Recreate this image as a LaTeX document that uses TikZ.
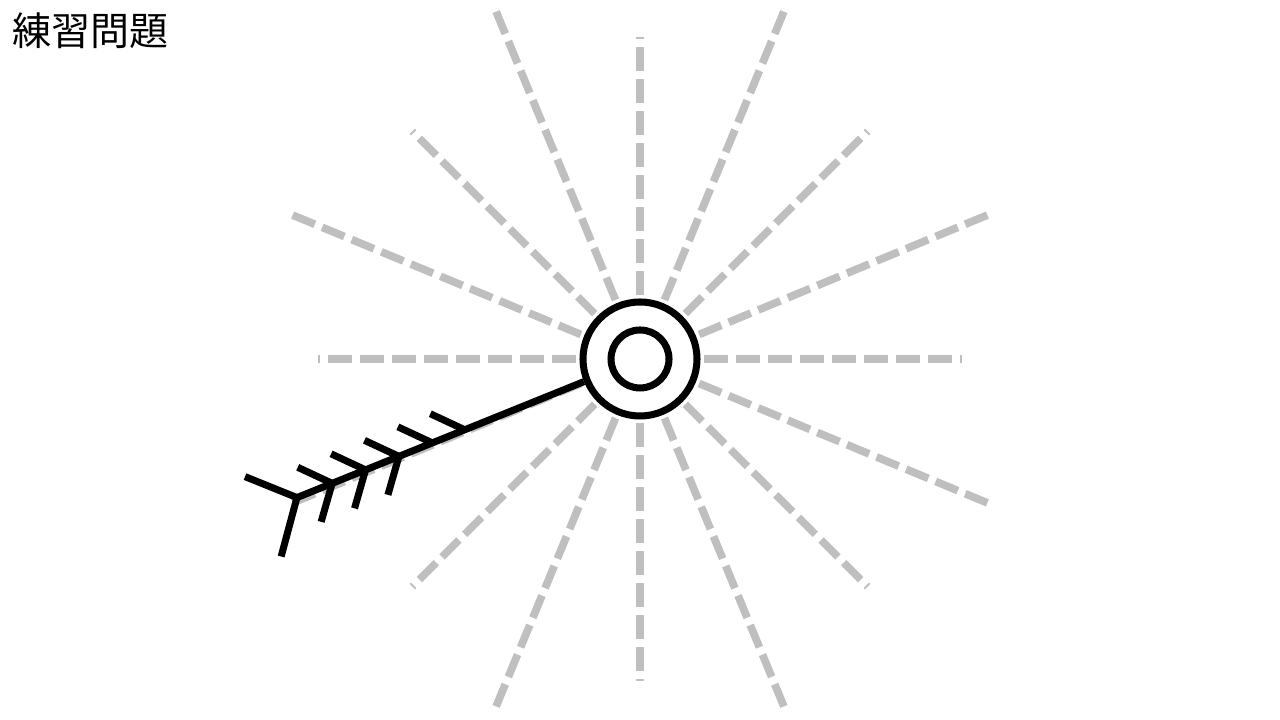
\documentclass[tikz,border=0pt]{standalone}
\usepackage{fontspec}
\newfontfamily\cjk{Noto Sans CJK JP}

\begin{document}
\begin{tikzpicture}[ray/.style={black!25, line width=2.2pt, dash pattern=on 0.24cm off 0.08cm},
    barb/.style={line width=2pt}]
    \useasboundingbox (-6.4,-3.61) rectangle (6.4,3.59);
    \node [font=\cjk\fontsize{11.1}{13}\selectfont, anchor=west, inner sep=0] (title) at (-6.28,3.28) {練習問題};
    % sixteen directions
    \foreach \a in {0,45,...,315} \draw [ray] (0,0) -- (\a:3.22);
    \foreach \a in {22.5,67.5,...,337.5} \draw [ray] (0,0) -- (\a:3.76);
    % station
    \node [circle, draw, barb, fill=white, minimum size=1.14cm, inner sep=0] (stn) at (0,0) {};
    \node [circle, draw, barb, minimum size=0.58cm, inner sep=0] (core) at (0,0) {};
    % shaft and feathers
    \coordinate (tip) at (202:3.70);
    \draw [barb] (stn) -- (tip);
    \draw [barb] (tip) -- ++(158:0.56);
    \draw [barb] (tip) -- ++(255:0.61);
    \foreach \d [count=\i] in {3.32,2.96,2.60,2.24,1.89} {
        \coordinate (f\i) at (202:\d);
        \draw [barb] (f\i) -- ++(155:0.38);
    }
    \foreach \i in {1,2,3} \draw [barb] (f\i) -- ++(254:0.40);
\end{tikzpicture}
\end{document}
